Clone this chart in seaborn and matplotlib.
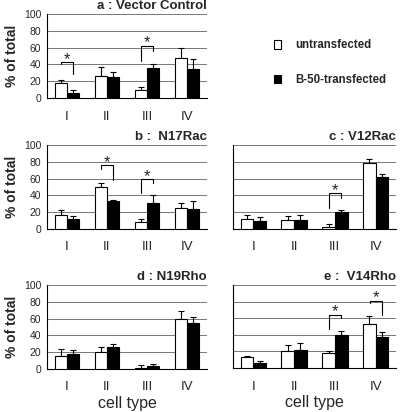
import numpy as np
import pandas as pd
import matplotlib
matplotlib.use("Agg")
import matplotlib.pyplot as plt
from matplotlib.patches import Patch
import seaborn as sns

sns.set_style("white")
plt.rcParams['font.family'] = ['Liberation Sans', 'DejaVu Sans']

cells = ["I", "II", "III", "IV"]
groups = ["untransfected", "B-50-transfected"]
yticks = [0, 20, 40, 60, 80, 100]

titles = ["a : Vector Control", "b :  N17Rac", "c : V12Rac", "d : N19Rho", "e :  V14Rho"]

# means (untransfected, transfected) and upper error
a_unt = [17.5, 26.5, 10, 47.5];  a_unt_err = [3.5, 10, 3, 12.5]
a_tra = [5.5, 24.5, 36, 35];     a_tra_err = [4.5, 6.5, 4.5, 11]
b_unt = [16.5, 50.5, 8.7, 25.3]; b_unt_err = [6.5, 4.8, 3.2, 5.5]
b_tra = [12, 33.5, 30.8, 23.7];  b_tra_err = [4, 1.3, 10, 10]
c_unt = [12, 10.7, 2.4, 78];     c_unt_err = [4.7, 4.3, 3.1, 5]
c_tra = [9.9, 11, 19.8, 61.7];   c_tra_err = [4, 5.6, 2.7, 4]
d_unt = [15, 20.3, 1.6, 60];     d_unt_err = [9.3, 5.6, 3.6, 9.5]
d_tra = [18.3, 25.9, 3.2, 55];   d_tra_err = [4, 4.4, 3.2, 7.2]
e_unt = [12.7, 20.3, 17.9, 53.4]; e_unt_err = [2, 7.2, 2, 8.8]
e_tra = [6, 21.5, 39.4, 37.8];   e_tra_err = [2, 9.2, 5.2, 5.6]

# significance brackets: (category index, top, left leg bottom, right leg bottom)
a_sig = [(0, 42.5, 40, 29), (2, 62, 44, 56)]
b_sig = [(1, 76, 72, 58.5), (2, 59, 42.7, 55)]
c_sig = [(2, 42.7, 25.3, 37.5)]
d_sig = []
e_sig = [(2, 64, 46.6, 60.6), (3, 81, 78, 64)]

panels = [
    (a_unt, a_unt_err, a_tra, a_tra_err, a_sig),
    (b_unt, b_unt_err, b_tra, b_tra_err, b_sig),
    (c_unt, c_unt_err, c_tra, c_tra_err, c_sig),
    (d_unt, d_unt_err, d_tra, d_tra_err, d_sig),
    (e_unt, e_unt_err, e_tra, e_tra_err, e_sig),
]

W, H = 400, 412
fig = plt.figure(figsize=(W / 100, H / 100), dpi=100)

def rect(x0, y0, x1, y1):
    return [x0 / W, 1 - y1 / H, (x1 - x0) / W, (y1 - y0) / H]

boxes = [(47, 14, 207, 98), (47, 145, 207, 229), (233, 145, 396, 229),
         (47, 285, 207, 369), (233, 285, 396, 368)]

for i, (box, title, (unt, unt_err, tra, tra_err, sig)) in enumerate(zip(boxes, titles, panels)):
    ax = fig.add_axes(rect(*box))
    df = pd.DataFrame({
        "cell": cells * 2,
        "group": [groups[0]] * 4 + [groups[1]] * 4,
        "value": list(unt) + list(tra),
    })
    sns.barplot(data=df, x="cell", y="value", hue="group", hue_order=groups,
                palette=["white", "black"], edgecolor="black", linewidth=0.8,
                width=0.62, errorbar=None, legend=False, ax=ax, zorder=3)
    for cont, errs in zip(ax.containers, [unt_err, tra_err]):
        xs = [b.get_x() + b.get_width() / 2 for b in cont]
        hs = [b.get_height() for b in cont]
        ax.errorbar(xs, hs, yerr=[np.zeros(len(errs)), errs], fmt="none",
                    ecolor="black", elinewidth=0.8, capsize=2, capthick=0.8, zorder=2)
    for (ci, top, lb, rb) in sig:
        xl, xr = ci - 0.15, ci + 0.15
        ax.plot([xl, xl, xr, xr], [lb, top, top, rb], color="black", lw=0.8, zorder=4)
        ax.text(ci, top + 3.5, "*", ha="center", va="center", fontsize=12, zorder=4)
    ax.set_xlim(-0.5, 3.5)
    ax.set_ylim(0, 100)
    ax.set_yticks(yticks)
    ax.yaxis.grid(True, color="#777777", lw=0.7, zorder=0)
    ax.set_axisbelow(True)
    ax.set_xticks([-0.5, 0.5, 1.5, 2.5, 3.5])
    ax.set_xticklabels([])
    ax.set_xticks([0, 1, 2, 3], minor=True)
    ax.set_xticklabels(cells, minor=True, fontsize=9.5)
    ax.tick_params(axis="x", which="major", direction="inout", length=6, width=0.8, color="black")
    ax.tick_params(axis="x", which="minor", length=0, pad=9)
    ax.tick_params(axis="y", direction="out", length=2, width=0.8, color="black", labelsize=7.5, pad=2)
    for s in ["top", "right"]:
        ax.spines[s].set_visible(False)
    for s in ["left", "bottom"]:
        ax.spines[s].set_color("black")
        ax.spines[s].set_linewidth(0.8)
    ax.set_xlabel("")
    ax.set_ylabel("")
    if i in (2, 4):
        ax.set_yticklabels([])
    else:
        ax.set_ylabel("% of total", fontsize=10, fontweight="bold", labelpad=4)
    if i in (3, 4):
        ax.set_xlabel("cell type", fontsize=11.5, labelpad=2)
    ax.text(1.0, 1.02, title, transform=ax.transAxes, ha="right", va="bottom",
            fontsize=9.5, fontweight="bold")

handles = [Patch(facecolor="white", edgecolor="black", linewidth=0.8),
           Patch(facecolor="black", edgecolor="black", linewidth=0.8)]
fig.legend(handles=handles, labels=groups, loc="upper left",
           bbox_to_anchor=(264 / W, 1 - 29 / H), frameon=False,
           handlelength=0.6, handleheight=0.75, labelspacing=1.95, handletextpad=1.2,
           prop={"weight": "bold", "size": 8.3})

fig.savefig("out.png", dpi=100)
